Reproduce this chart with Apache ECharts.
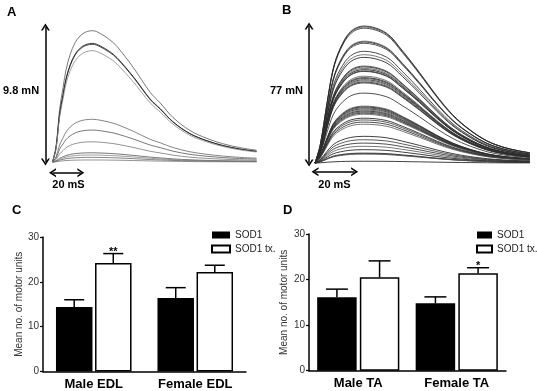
<!DOCTYPE html>
<html>
<head>
<meta charset="utf-8">
<script src="https://cdn.jsdelivr.net/npm/echarts@6/dist/echarts.min.js"></script>
<style>html,body{margin:0;padding:0;background:#fff}#c{width:537px;height:391px}</style>
</head>
<body>
<div id="c"></div>
<script>
// ---------- Panel A: twitch traces (time in ms, force in mN) ----------
const timeA  = [0, 2.5, 5, 7.5, 9.5, 12.5, 16, 19.5, 23.5, 28.5, 33.5, 40.5, 45.5, 57, 69, 76, 85, 97, 109, 120, 132, 144];
const shapeA = [0, 0.12, 0.40, 0.57, 0.70, 0.82, 0.91, 0.96, 0.99, 1.0, 0.98, 0.93, 0.88, 0.72, 0.53, 0.45, 0.34, 0.24, 0.18, 0.14, 0.11, 0.09];
const peaksA = [9.53, 8.61, 8.54, 8.08, 3.10, 2.32, 1.47, 0.67, 0.51, 0.34, 0.15];
const scaleA = {force: 9.8, forceUnit: 'mN', time: 20, timeUnit: 'mS'};

// ---------- Panel B ----------
const timeB  = [0, 2.6, 6.2, 9.2, 12.8, 18, 24.6, 35.9, 44.1, 52.8, 61.5, 69.7, 78.5, 87.2, 95.4, 102.6, 108.5];
const shapeB = [0, 0.13, 0.45, 0.69, 0.84, 0.96, 1.0, 0.95, 0.82, 0.66, 0.49, 0.35, 0.24, 0.16, 0.115, 0.09, 0.075];
const peaksB = [77, 76.5, 75.8, 68.5, 68, 67.3, 62.8, 60.9, 59.4,
                54.5, 54, 53.2, 52.5, 51.8, 51.5, 48.8, 48, 47.5, 46.8, 46.2, 45.5, 45,
                39.3, 32, 31.5, 31, 30.4, 29.8, 29.2, 28.6, 28, 27.4, 25.2, 24.2, 23, 21.8,
                15, 13.1, 11.2, 9.4, 7.5, 5.6, 5.3, 5.0, 1.0];
const scaleB = {force: 77, forceUnit: 'mN', time: 20, timeUnit: 'mS'};

// ---------- Panel C ----------
const categoriesC = ['Male EDL', 'Female EDL'];
const sod1C   = [14.4, 16.4];
const sod1ErrC = [1.6, 2.3];
const txC     = [24.2, 22.2];
const txErrC  = [2.1, 1.5];
const sigSod1C = ['', ''];
const sigTxC   = ['**', ''];

// ---------- Panel D ----------
const categoriesD = ['Male TA', 'Female TA'];
const sod1D   = [16.1, 14.8];
const sod1ErrD = [1.8, 1.4];
const txD     = [20.5, 21.4];
const txErrD  = [3.6, 1.2];
const sigSod1D = ['', ''];
const sigTxD   = ['', '*'];

const seriesNames = ['SOD1', 'SOD1 tx.'];
const yTicks = [0, 10, 20, 30];
const yAxisTitle = 'Mean no. of motor units';
const panelLetters = ['A', 'B', 'C', 'D'];

// ---------- styling helpers ----------
const FONT = 'Arial, "Liberation Sans", sans-serif';
const chevron = 'path://M0,9 L5,0 L10,9 L8,9 L5,3.6 L2,9 Z';
const traceColorsA = ['#555', '#111', '#222', '#888', '#666', '#555', '#777', '#555', '#888', '#666', '#777'];
const traceColorsB = ['#111', '#333', '#222', '#555'];

const chart = echarts.init(document.getElementById('c'), null, {renderer: 'canvas'});

function traceSeries(times, shape, peaks, axisIdx, colorFn, scale, tMin) {
  const out = [];
  peaks.forEach((pk, k) => {
    const s = {
      type: 'line', name: 'trace' + axisIdx + '_' + k,
      xAxisIndex: axisIdx, yAxisIndex: axisIdx,
      data: times.map((t, i) => [t, pk * shape[i]]),
      showSymbol: false, symbol: 'none', smooth: 0.35, clip: false,
      silent: true, animation: false,
      lineStyle: {width: 0.8, color: colorFn(k)}
    };
    if (k === 0) {
      const yArrow = axisIdx === 0 ? -0.78 : -4.9;
      s.markLine = {
        silent: true, animation: false,
        symbol: [chevron, chevron], symbolSize: [9, 7],
        label: {show: false},
        lineStyle: {color: '#000', width: 1.5, type: 'solid'},
        data: [
          [{coord: [tMin, 0]}, {coord: [tMin, scale.force]}],
          [{coord: [0, yArrow]}, {coord: [scale.time, yArrow]}]
        ]
      };
    }
    out.push(s);
  });
  return out;
}

function errSeries(axisIdx, values, errs, sigs, offsetPx, capW) {
  return {
    type: 'custom', name: 'err' + axisIdx + offsetPx,
    xAxisIndex: axisIdx, yAxisIndex: axisIdx, silent: true, animation: false, z: 5,
    data: values.map((v, i) => [i, v, errs[i]]),
    encode: {x: 0, y: 1},
    renderItem: function (params, api) {
      const i = api.value(0), v = api.value(1), e = api.value(2);
      const p0 = api.coord([i, v]), p1 = api.coord([i, v + e]);
      const x = p0[0] + offsetPx;
      const children = [
        {type: 'line', shape: {x1: x, y1: p0[1], x2: x, y2: p1[1]}, style: {stroke: '#000', lineWidth: 1.5}},
        {type: 'line', shape: {x1: x - capW / 2, y1: p1[1], x2: x + capW / 2, y2: p1[1]}, style: {stroke: '#000', lineWidth: 1.5}}
      ];
      const s = sigs[params.dataIndex];
      if (s) children.push({type: 'text', style: {text: s, x: x, y: p1[1] - 2, align: 'center', verticalAlign: 'middle',
        font: 'bold 11px ' + FONT, fill: '#000'}});
      return {type: 'group', children: children};
    }
  };
}

const barC = {w: 36.5, gap: 0.07};
const barD = {w: 39.5, gap: 0.08};
const offC = (barC.w * (1 + barC.gap)) / 2;
const offD = (barD.w * (1 + barD.gap)) / 2;

function barYAxis(idx, nameGap) {
  return {
    gridIndex: idx, type: 'value', min: yTicks[0], max: yTicks[yTicks.length - 1], interval: yTicks[1] - yTicks[0],
    name: yAxisTitle, nameLocation: 'middle', nameGap: nameGap,
    nameTextStyle: {fontSize: 10, color: '#333', fontFamily: FONT},
    axisLine: {show: true, lineStyle: {color: '#000', width: 1.5}},
    axisTick: {show: true, length: 3, lineStyle: {color: '#000', width: 1.2}},
    axisLabel: {fontSize: 10, color: '#333', fontFamily: FONT, margin: 4},
    splitLine: {show: false}
  };
}
function barXAxis(idx, cats) {
  return {
    gridIndex: idx, type: 'category', data: cats,
    axisLine: {show: true, lineStyle: {color: '#000', width: 1.5}},
    axisTick: {show: false},
    axisLabel: {fontSize: 13, fontWeight: 'bold', color: '#000', fontFamily: FONT, margin: 6, interval: 0},
    splitLine: {show: false}
  };
}

const legendCommon = {
  orient: 'vertical', icon: 'rect', itemHeight: 7, itemGap: 2,
  data: seriesNames, selectedMode: false,
  textStyle: {fontSize: 10, color: '#222', fontFamily: FONT, lineHeight: 12}
};

function txt(x, y, text, size, align) {
  return {type: 'text', x: x, y: y, silent: true,
    style: {text: text, font: 'bold ' + size + 'px ' + FONT, fill: '#000', align: align || 'left', verticalAlign: 'middle'}};
}

const option = {
  animation: false,
  backgroundColor: '#fff',
  grid: [
    {left: 44.0, top: 20.1, width: 216.8, height: 155.7},
    {left: 307.1, top: 20.7, width: 225.7, height: 153},
    {left: 43, top: 237, width: 203, height: 134.5},
    {left: 309, top: 234, width: 197, height: 136.7}
  ],
  xAxis: [
    {gridIndex: 0, type: 'value', min: -6, max: 147, show: false},
    {gridIndex: 1, type: 'value', min: -4, max: 110, show: false},
    barXAxis(2, categoriesC),
    barXAxis(3, categoriesD)
  ],
  yAxis: [
    {gridIndex: 0, type: 'value', min: -1, max: 10.3, show: false},
    {gridIndex: 1, type: 'value', min: -6, max: 80, show: false},
    barYAxis(2, 17),
    barYAxis(3, 20)
  ],
  legend: [
    Object.assign({left: 206, top: 224, itemWidth: 18}, legendCommon),
    Object.assign({left: 471, top: 224, itemWidth: 15}, legendCommon)
  ],
  graphic: [
    txt(7, 12.5, panelLetters[0], 13),
    txt(282, 10, panelLetters[1], 13),
    txt(12, 210, panelLetters[2], 13),
    txt(283, 210, panelLetters[3], 13),
    txt(3, 90.5, scaleA.force + ' ' + scaleA.forceUnit, 11),
    txt(270, 90.5, scaleB.force + ' ' + scaleB.forceUnit, 11),
    txt(68.5, 185, scaleA.time + ' ' + scaleA.timeUnit, 11, 'center'),
    txt(334.5, 185, scaleB.time + ' ' + scaleB.timeUnit, 11, 'center')
  ],
  series: [].concat(
    traceSeries(timeA, shapeA, peaksA, 0, k => traceColorsA[k % traceColorsA.length], scaleA, -5),
    traceSeries(timeB, shapeB, peaksB, 1, k => traceColorsB[k % traceColorsB.length], scaleB, -3),
    [
      {type: 'bar', name: seriesNames[0], xAxisIndex: 2, yAxisIndex: 2, data: sod1C,
        barWidth: barC.w, barGap: (barC.gap * 100) + '%', itemStyle: {color: '#000'}},
      {type: 'bar', name: seriesNames[1], xAxisIndex: 2, yAxisIndex: 2, data: txC,
        barWidth: barC.w, barGap: (barC.gap * 100) + '%', itemStyle: {color: '#fff', borderColor: '#000', borderWidth: 1.5}},
      errSeries(2, sod1C, sod1ErrC, sigSod1C, -offC, 20),
      errSeries(2, txC, txErrC, sigTxC, offC, 20),
      {type: 'bar', name: seriesNames[0], xAxisIndex: 3, yAxisIndex: 3, data: sod1D,
        barWidth: barD.w, barGap: (barD.gap * 100) + '%', itemStyle: {color: '#000'}},
      {type: 'bar', name: seriesNames[1], xAxisIndex: 3, yAxisIndex: 3, data: txD,
        barWidth: barD.w, barGap: (barD.gap * 100) + '%', itemStyle: {color: '#fff', borderColor: '#000', borderWidth: 1.5}},
      errSeries(3, sod1D, sod1ErrD, sigSod1D, -offD, 22),
      errSeries(3, txD, txErrD, sigTxD, offD, 22)
    ]
  )
};
chart.setOption(option);
</script>
</body>
</html>
